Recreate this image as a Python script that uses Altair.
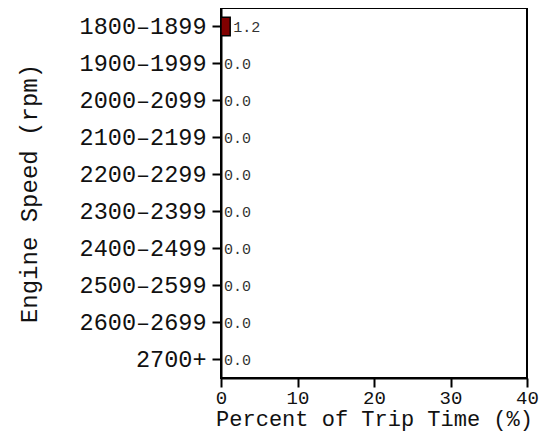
import altair as alt
import pandas as pd

categories = ["1800–1899", "1900–1999", "2000–2099", "2100–2199", "2200–2299",
              "2300–2399", "2400–2499", "2500–2599", "2600–2699", "2700+"]
values = [1.2, 0.0, 0.0, 0.0, 0.0, 0.0, 0.0, 0.0, 0.0, 0.0]

df = pd.DataFrame({"speed": categories, "pct": values})

FONT = "Liberation Mono"

y = alt.Y("speed:N", sort=categories,
          scale=alt.Scale(paddingInner=0.5, paddingOuter=0.25),
          axis=alt.Axis(title="Engine Speed (rpm)", labelFont=FONT, labelFontSize=23.5,
                        labelColor="#111111", titleFont=FONT, titleFontSize=24,
                        titleFontWeight="normal", titleColor="#111111",
                        tickSize=9, tickColor="black", tickWidth=2,
                        domainColor="black", domainWidth=2,
                        labelPadding=6, titlePadding=38))
x = alt.X("pct:Q", scale=alt.Scale(domain=[0, 40], nice=False),
          axis=alt.Axis(title="Percent of Trip Time (%)", values=[0, 10, 20, 30, 40],
                        labelFont=FONT, labelFontSize=19, labelColor="#111111",
                        titleFont=FONT, titleFontSize=22, titleFontWeight="normal",
                        titleColor="#111111", tickSize=9, tickColor="black", tickWidth=2,
                        domainColor="black", domainWidth=2, grid=False,
                        labelPadding=1, titlePadding=1, labelFlush=False))

bars = alt.Chart(df).mark_bar(color="#800000", stroke="black", strokeWidth=1.5).encode(x=x, y=y)
labels = alt.Chart(df).mark_text(align="left", baseline="middle", dx=3, font=FONT,
                                 fontSize=15, color="#333333").encode(
    x="pct:Q", y=alt.Y("speed:N", sort=categories),
    text=alt.Text("pct:Q", format=".1f"))

chart = (bars + labels).properties(
    width=306, height=370,
    autosize=alt.AutoSizeParams(type="none"),
    padding={"left": 213, "top": 0, "right": 14, "bottom": 56},
).configure_view(stroke="black", strokeWidth=2)

chart.save("out.html", embed_options={"renderer": "svg", "actions": False})
